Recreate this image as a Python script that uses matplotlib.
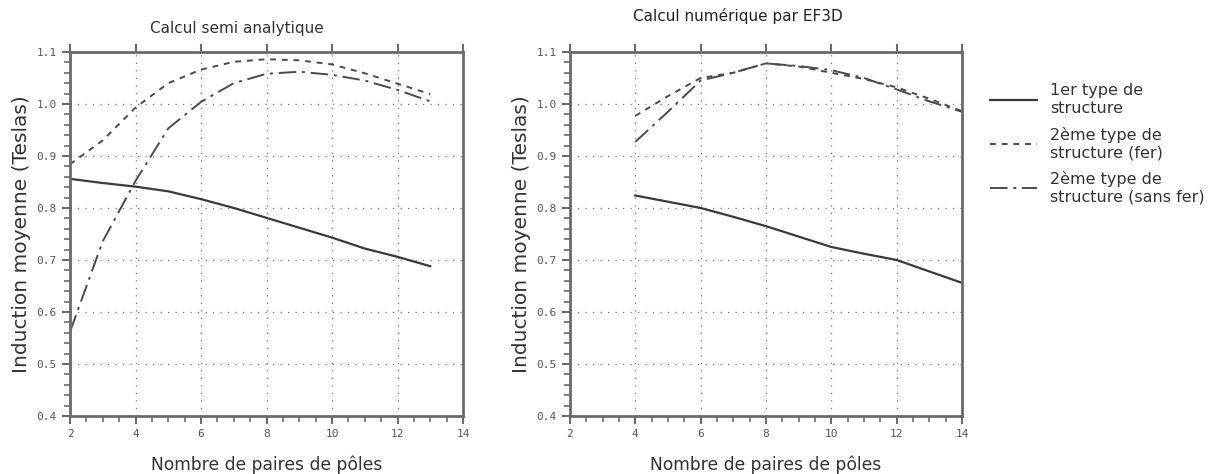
import numpy as np
import matplotlib
matplotlib.use("Agg")
import matplotlib.pyplot as plt
from matplotlib.ticker import MultipleLocator

# Calcul semi analytique
x_semi = [2, 3, 4, 5, 6, 7, 8, 9, 10, 11, 12, 13]
semi_type1 = [0.856, 0.848, 0.841, 0.832, 0.817, 0.800, 0.781, 0.762, 0.743, 0.722, 0.706, 0.688]
semi_fer = [0.884, 0.930, 0.993, 1.040, 1.066, 1.081, 1.086, 1.084, 1.076, 1.059, 1.039, 1.019]
semi_sans_fer = [0.562, 0.736, 0.852, 0.953, 1.004, 1.040, 1.058, 1.062, 1.056, 1.045, 1.027, 1.005]

# Calcul numérique par EF3D
x_num = [4, 5, 6, 7, 8, 9, 10, 11, 12, 13, 14]
num_type1 = [0.824, 0.812, 0.800, 0.783, 0.765, 0.745, 0.725, 0.712, 0.700, 0.678, 0.656]
num_fer = [0.977, 1.015, 1.050, 1.060, 1.078, 1.072, 1.060, 1.048, 1.032, 1.010, 0.986]
num_sans_fer = [0.927, 0.985, 1.045, 1.060, 1.078, 1.073, 1.065, 1.050, 1.028, 1.005, 0.985]

labels = ["1er type de\nstructure", "2ème type de\nstructure (fer)", "2ème type de\nstructure (sans fer)"]
titles = ["Calcul semi analytique", "Calcul numérique par EF3D"]

styles = [
    dict(color="#3a3a3a", lw=1.6, ls="-"),
    dict(color="#4a4a4a", lw=1.4, ls=(0, (3, 3))),
    dict(color="#4a4a4a", lw=1.4, ls=(0, (9, 3, 1.5, 3))),
]

fig = plt.figure(figsize=(12.22, 4.74), dpi=100)
ax1 = fig.add_axes([0.0573, 0.1224, 0.3216, 0.768])
ax2 = fig.add_axes([0.4664, 0.1224, 0.3208, 0.768])

data = [
    (ax1, x_semi, [semi_type1, semi_fer, semi_sans_fer]),
    (ax2, x_num, [num_type1, num_fer, num_sans_fer]),
]

handles = []
for ax, xs, series in data:
    for ys, st, lab in zip(series, styles, labels):
        h, = ax.plot(xs, ys, label=lab, **st)
        if ax is ax1:
            handles.append(h)
    ax.set_xlim(2, 14)
    ax.set_ylim(0.4, 1.1)
    ax.xaxis.set_major_locator(MultipleLocator(2))
    ax.xaxis.set_minor_locator(MultipleLocator(0.5))
    ax.yaxis.set_major_locator(MultipleLocator(0.1))
    ax.yaxis.set_minor_locator(MultipleLocator(0.02))
    ax.set_yticklabels([f"{v:.1f}" for v in ax.get_yticks()])
    ax.grid(True, which="major", color="#777777", ls=(0, (1, 5)), lw=0.9)
    for sp in ax.spines.values():
        sp.set_color("#6a6a6a")
        sp.set_linewidth(2)
    ax.tick_params(which="major", direction="out", length=6, width=1.5, color="#6a6a6a",
                   labelsize=8, labelcolor="#555555", top=True)
    ax.tick_params(which="minor", direction="out", length=4, width=1.2, color="#6a6a6a")
    for t in ax.get_xticklabels() + ax.get_yticklabels():
        t.set_family("DejaVu Sans Mono")
    ax.set_xlabel("Nombre de paires de pôles", fontsize=12.3, color="#333333", labelpad=12)
    ax.set_ylabel("Induction moyenne (Teslas)", fontsize=14.5, color="#333333", labelpad=4)

fig.text(0.194, 0.93, titles[0], fontsize=11, color="#333333", ha="center")
fig.text(0.604, 0.955, titles[1], fontsize=11, color="#222222", ha="center")

fig.legend(handles, labels, loc="upper left", bbox_to_anchor=(0.798, 0.855),
           frameon=False, fontsize=11.5, handlelength=3, labelspacing=0.7,
           labelcolor="#333333")

fig.savefig("out.png", dpi=100)
